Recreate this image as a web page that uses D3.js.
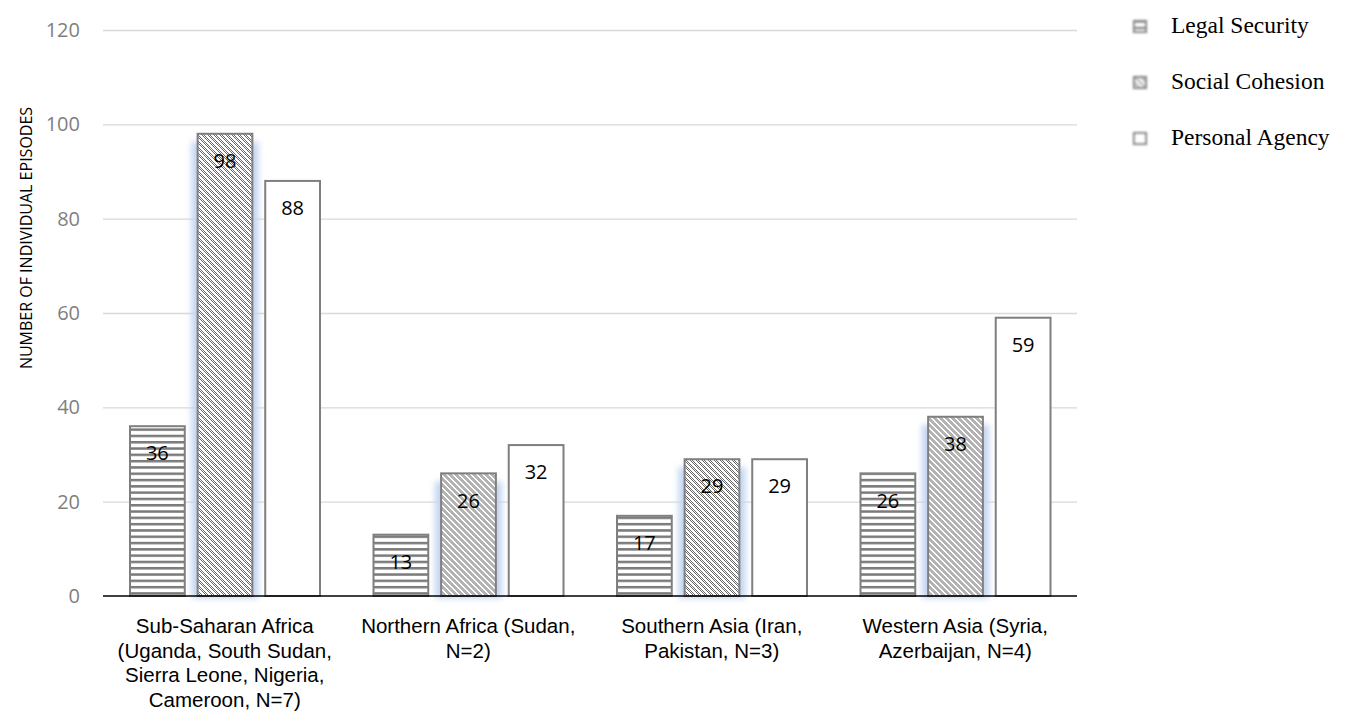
<!DOCTYPE html>
<html>
<head>
<meta charset="utf-8">
<script src="https://cdn.jsdelivr.net/npm/d3@7/dist/d3.min.js"></script>
<style>
  html, body { margin: 0; padding: 0; background: #fff; }
  svg { display: block; }
</style>
</head>
<body>
<svg id="chart" width="1346" height="725"></svg>
<script>
// Regions (x-axis categories), each label split into its display lines
const categories = [
  "Sub-Saharan Africa (Uganda, South Sudan, Sierra Leone, Nigeria, Cameroon, N=7)",
  "Northern Africa (Sudan, N=2)",
  "Southern Asia (Iran, Pakistan, N=3)",
  "Western Asia (Syria, Azerbaijan, N=4)"
];
const categoryLines = [
  ["Sub-Saharan Africa", "(Uganda, South Sudan,", "Sierra Leone, Nigeria,", "Cameroon, N=7)"],
  ["Northern Africa (Sudan,", "N=2)"],
  ["Southern Asia (Iran,", "Pakistan, N=3)"],
  ["Western Asia (Syria,", "Azerbaijan, N=4)"]
];

// Series
const seriesNames = ["Legal Security", "Social Cohesion", "Personal Agency"];
const legalSecurity  = [36, 13, 17, 26];
const socialCohesion = [98, 26, 29, 38];
const personalAgency = [88, 32, 29, 59];

// Y axis ticks
const yTicks = [0, 20, 40, 60, 80, 100, 120];
const yTitle = "NUMBER OF INDIVIDUAL EPISODES";

const seriesValues = [legalSecurity, socialCohesion, personalAgency];
const rows = categories.map((c, i) => ({
  category: c,
  values: seriesNames.map((s, j) => ({ series: s, value: seriesValues[j][i] }))
}));

const svg = d3.select("#chart");
const sansFont = "'Open Sans', 'Liberation Sans', sans-serif";
const labelFont = "'Liberation Sans', Arial, sans-serif";

const plot = { left: 103, right: 1077, top: 30, bottom: 596 };

const x0 = d3.scaleBand().domain(categories).range([plot.left, plot.right]);
const x1 = d3.scaleBand().domain(seriesNames).range([27, 217]).paddingInner(0.19);
const y = d3.scaleLinear().domain([0, 120]).range([plot.bottom, plot.top]);

// ---- fill patterns ----
const defs = svg.append("defs");

// horizontal stripes
const stripes = defs.append("pattern")
  .attr("id", "pat-legal").attr("patternUnits", "userSpaceOnUse")
  .attr("width", 8).attr("height", 6.3);
stripes.append("rect").attr("width", 8).attr("height", 6.3).attr("fill", "#fff");
stripes.append("rect").attr("y", 0).attr("width", 8).attr("height", 2.5).attr("fill", "#7a7a7a");

// dotted downward diagonal
const diag = defs.append("pattern")
  .attr("id", "pat-social").attr("patternUnits", "userSpaceOnUse")
  .attr("width", 6).attr("height", 6);
diag.append("rect").attr("width", 6).attr("height", 6).attr("fill", "#fff");
for (let px = 0; px < 6; px++) {
  for (let py = 0; py < 6; py++) {
    if ((px + py) % 2 === 0 && ((px - py + 6) % 6) < 4) {
      diag.append("rect").attr("x", px).attr("y", py).attr("width", 1).attr("height", 1).attr("fill", "#666");
    }
  }
}

// soft blue glow behind the Social Cohesion bars
const glow = defs.append("filter").attr("id", "glow")
  .attr("x", "-50%").attr("y", "-10%").attr("width", "200%").attr("height", "120%");
glow.append("feGaussianBlur").attr("stdDeviation", 3);

const soft = defs.append("filter").attr("id", "soft")
  .attr("x", "-50%").attr("y", "-50%").attr("width", "200%").attr("height", "200%");
soft.append("feGaussianBlur").attr("stdDeviation", 0.8);

const fills = {
  "Legal Security": "url(#pat-legal)",
  "Social Cohesion": "url(#pat-social)",
  "Personal Agency": "#ffffff"
};

// ---- gridlines ----
svg.append("g")
  .attr("transform", `translate(${plot.left},0)`)
  .call(d3.axisLeft(y).tickValues(yTicks.filter(t => t > 0))
    .tickSize(-(plot.right - plot.left)).tickFormat(""))
  .call(g => g.select(".domain").remove())
  .call(g => g.selectAll("line").attr("stroke", "#d9d9d9").attr("stroke-width", 1.3));

// ---- y tick labels ----
svg.append("g")
  .attr("transform", `translate(${plot.left},0)`)
  .call(d3.axisLeft(y).tickValues(yTicks).tickSize(0).tickPadding(23))
  .call(g => g.select(".domain").remove())
  .call(g => g.selectAll("text")
    .attr("fill", "#7f7f7f").attr("font-family", sansFont).attr("font-size", 20));

// ---- bars ----
const groups = svg.append("g").selectAll("g")
  .data(rows).join("g")
  .attr("transform", d => `translate(${x0(d.category)},0)`);

groups.selectAll("rect.glow")
  .data(d => d.values.filter(v => v.series === "Social Cohesion"))
  .join("rect").attr("class", "glow")
  .attr("x", d => x1(d.series) - 6)
  .attr("y", d => y(d.value) + 8)
  .attr("width", x1.bandwidth() + 12)
  .attr("height", d => y(0) - y(d.value) - 6)
  .attr("fill", "#c2d4f0")
  .attr("filter", "url(#glow)");

groups.selectAll("rect.bar")
  .data(d => d.values)
  .join("rect").attr("class", "bar")
  .attr("x", d => x1(d.series))
  .attr("y", d => y(d.value))
  .attr("width", x1.bandwidth())
  .attr("height", d => y(0) - y(d.value))
  .attr("fill", d => fills[d.series])
  .attr("stroke", "#7f7f7f")
  .attr("stroke-width", 2);

groups.selectAll("text.val")
  .data(d => d.values)
  .join("text").attr("class", "val")
  .attr("x", d => x1(d.series) + x1.bandwidth() / 2)
  .attr("y", d => y(d.value) + 27)
  .attr("dy", "0.36em")
  .attr("text-anchor", "middle")
  .attr("font-family", sansFont)
  .attr("font-size", 20)
  .attr("fill", "#000")
  .text(d => d.value);

// ---- baseline ----
svg.append("line")
  .attr("x1", plot.left).attr("x2", plot.right)
  .attr("y1", y(0)).attr("y2", y(0))
  .attr("stroke", "#000").attr("stroke-width", 1.5);

// ---- category labels (one text per line) ----
const catGroups = svg.append("g").selectAll("g")
  .data(categories).join("g")
  .attr("transform", d => `translate(${x0(d) + x0.bandwidth() / 2},0)`);

catGroups.selectAll("text")
  .data((d, i) => categoryLines[i]).join("text")
  .attr("x", 0)
  .attr("y", (t, k) => 633 + k * 24.7)
  .attr("text-anchor", "middle")
  .attr("font-family", labelFont)
  .attr("font-size", 20.5)
  .attr("fill", "#000")
  .text(t => t);

// ---- y axis title ----
svg.append("text")
  .attr("transform", "translate(32,238) rotate(-90)")
  .attr("text-anchor", "middle")
  .attr("font-family", sansFont)
  .attr("font-size", 16)
  .attr("fill", "#000")
  .text(yTitle);

// ---- legend ----
const legend = svg.append("g").selectAll("g")
  .data(seriesNames).join("g")
  .attr("transform", (d, i) => `translate(1134,${33 + i * 56})`);

legend.append("rect")
  .attr("x", 0).attr("y", -12)
  .attr("width", 12).attr("height", 11)
  .attr("fill", d => fills[d])
  .attr("stroke", "#8c8c8c").attr("stroke-width", 2.2)
  .attr("filter", "url(#soft)");

legend.append("text")
  .attr("x", 37).attr("y", 0)
  .attr("font-family", "'Liberation Serif', 'Times New Roman', serif")
  .attr("font-size", 23.5)
  .attr("fill", "#000")
  .text(d => d);
</script>
</body>
</html>
